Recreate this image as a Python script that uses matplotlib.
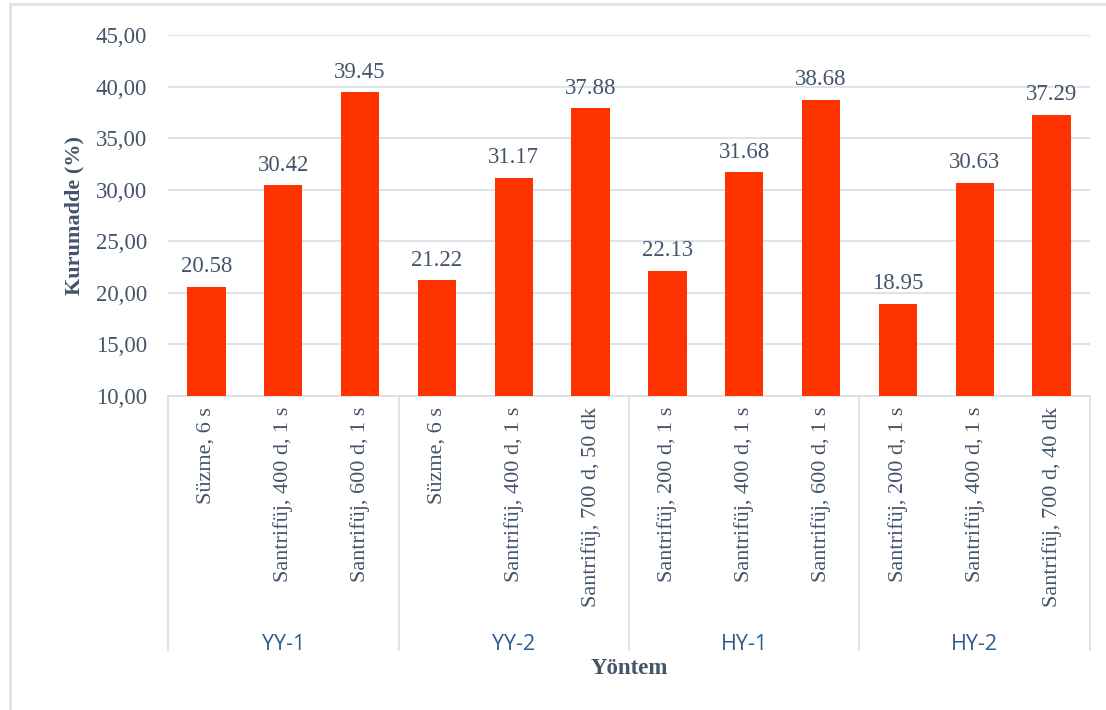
import matplotlib
matplotlib.use("Agg")
import matplotlib.pyplot as plt
import matplotlib.transforms as mtransforms
from matplotlib.lines import Line2D

categories = ["Süzme, 6 s", "Santrifüj, 400 d, 1 s", "Santrifüj, 600 d, 1 s",
              "Süzme, 6 s", "Santrifüj, 400 d, 1 s", "Santrifüj, 700 d, 50 dk",
              "Santrifüj, 200 d, 1 s", "Santrifüj, 400 d, 1 s", "Santrifüj, 600 d, 1 s",
              "Santrifüj, 200 d, 1 s", "Santrifüj, 400 d, 1 s", "Santrifüj, 700 d, 40 dk"]
values = [20.58, 30.42, 39.45, 21.22, 31.17, 37.88, 22.13, 31.68, 38.68, 18.95, 30.63, 37.29]
groups = ["YY-1", "YY-2", "HY-1", "HY-2"]
group_size = 3
yticks = [10, 15, 20, 25, 30, 35, 40, 45]
ytick_labels = ["10,00", "15,00", "20,00", "25,00", "30,00", "35,00", "40,00", "45,00"]

txt = "#44546A"
grid_c = "#D9DDE3"
serif = ["Liberation Serif", "DejaVu Serif"]
sans = ["Open Sans", "DejaVu Sans"]

fig = plt.figure(figsize=(11.06, 7.10), dpi=100)
ax = fig.add_axes([168/1106, 314/710, 922/1106, 361/710])

x = list(range(len(values)))
bars = ax.bar(x, values, width=0.5, color="#FF3300", zorder=3)
ax.set_ylim(10, 45)
ax.set_xlim(-0.5, len(values) - 0.5)

for xi, v in zip(x, values):
    ax.annotate(f"{v:.2f}", (xi, v), xytext=(0, 7), textcoords="offset points",
                ha="center", va="bottom", fontsize=16.5, color=txt, family=serif)

ax.set_yticks(yticks)
ax.set_yticklabels(ytick_labels, fontsize=16.5, color=txt, family=serif)
ax.tick_params(axis="y", length=0, pad=15)
ax.yaxis.grid(True, color=grid_c, linewidth=1.2, zorder=0)
ax.set_axisbelow(True)

ax.set_xticks(x)
ax.set_xticklabels(categories, rotation=90, fontsize=16, color=txt, family=serif, va="top")
ax.tick_params(axis="x", length=0, pad=8)

for s in ["top", "right", "left"]:
    ax.spines[s].set_visible(False)
ax.spines["bottom"].set_color(grid_c)
ax.spines["bottom"].set_linewidth(1.2)

trans = mtransforms.blended_transform_factory(ax.transData, ax.transAxes)
for i in range(len(groups) + 1):
    xs = i * group_size - 0.5
    ax.add_line(Line2D([xs, xs], [0, -254/361], transform=trans, color=grid_c,
                       linewidth=1.2, clip_on=False))
for i, g in enumerate(groups):
    xc = i * group_size + (group_size - 1) / 2
    ax.text(xc, -249/361, g, transform=trans, ha="center", va="center",
            fontsize=15.5, color="#2F5C8F", family=sans)

ax.text(0.5, -272/361, "Yöntem", transform=ax.transAxes, ha="center", va="center",
        fontsize=16.5, fontweight="bold", color=txt, family=serif)
ax.set_ylabel("Kurumadde (%)", fontsize=16, fontweight="bold", color=txt, family=serif)
ax.yaxis.set_label_coords(-84/922, 0.5)

# outer frame (left and top edges)
fig.add_artist(Line2D([10/1106, 10/1106], [0, 1 - 4/710], transform=fig.transFigure,
                      color="#DDE2EA", linewidth=2))
fig.add_artist(Line2D([10/1106, 1], [1 - 4/710, 1 - 4/710], transform=fig.transFigure,
                      color="#DDE2EA", linewidth=2))

fig.savefig("out.png", dpi=100)
